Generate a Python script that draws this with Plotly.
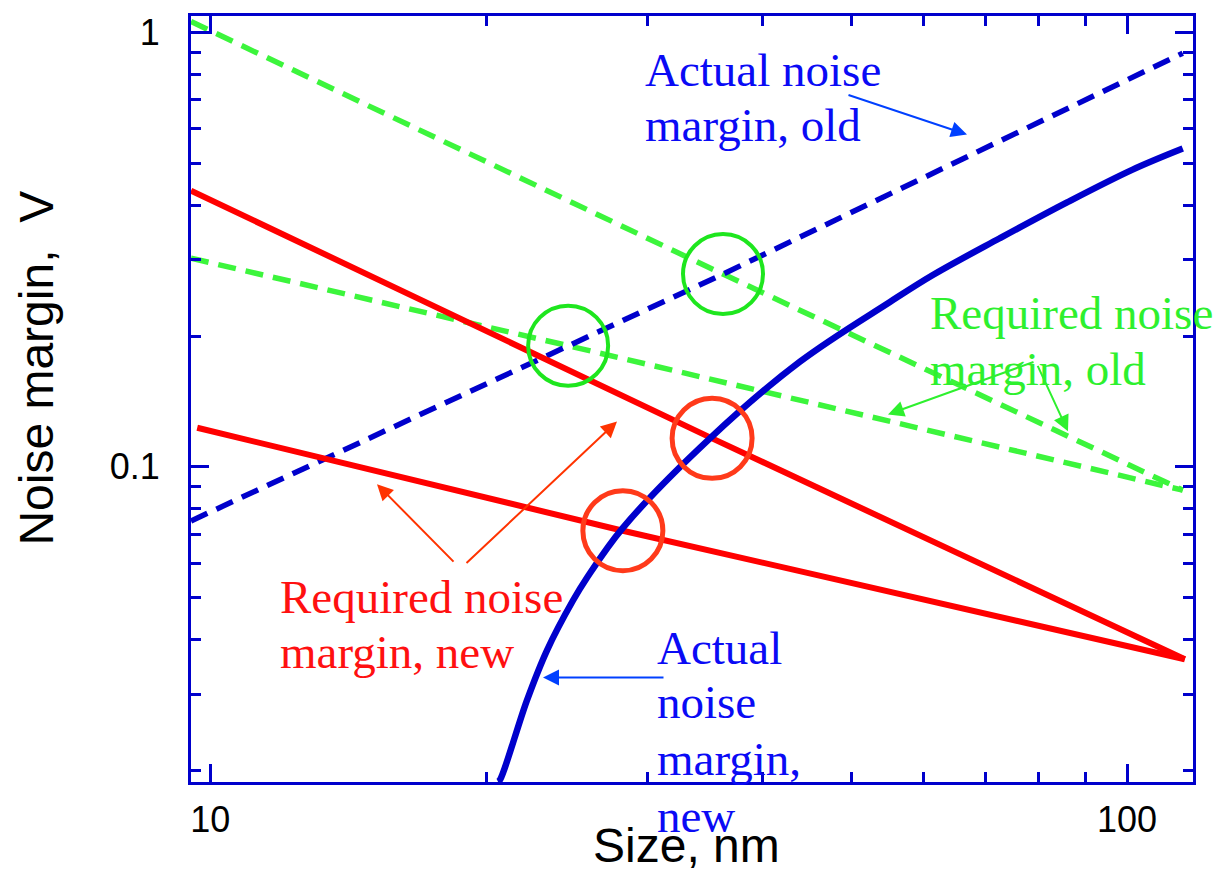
import math
import plotly.graph_objects as go

# ---------------- data ----------------
size_actual_old = [9.53, 24.57, 36.25, 115.0]
nm_actual_old = [0.0751, 0.190, 0.2777, 0.895]

size_actual_new = [20.6, 20.71, 22.16, 23.30, 24.87, 25.76, 28.19, 35.08, 43.98, 55.13, 61.4, 72.63, 86.0, 101.4, 115.0]
nm_actual_new = [0.01887, 0.01907, 0.02908, 0.03785, 0.04927, 0.0556, 0.0724, 0.1163, 0.1746, 0.2395, 0.2763, 0.3357, 0.406, 0.483, 0.540]

size_req_old_hi = [9.53, 36.25, 115.0]
nm_req_old_hi = [1.058, 0.2777, 0.0884]

size_req_old_lo = [9.53, 24.57, 115.0]
nm_req_old_lo = [0.302, 0.190, 0.0884]

size_req_new_hi = [9.53, 35.27, 115.6]
nm_req_new_hi = [0.432, 0.1163, 0.0361]

size_req_new_lo = [9.68, 28.19, 115.6]
nm_req_new_lo = [0.123, 0.0713, 0.0361]

green_circle_x = [24.57, 36.25]
green_circle_y = [0.190, 0.2777]
red_circle_x = [28.19, 35.27]
red_circle_y = [0.0713, 0.1163]

x_ticks = [10, 100]
x_ticktext = ["10", "100"]
y_ticks = [0.1, 1]
y_ticktext = ["0.1", "1"]
x_minor = [20, 30, 40, 50, 60, 70, 80, 90]
y_minor = [0.02, 0.03, 0.04, 0.05, 0.06, 0.07, 0.08, 0.09, 0.2, 0.3, 0.4, 0.5, 0.6, 0.7, 0.8, 0.9]

# ---------------- styling ----------------
W, H = 1232, 871
L, R, T, B = 191, 39, 13, 89
PW, PH = W - L - R, H - T - B

AX = "#0000cc"
BLUE = "#0000cc"
GREEN = "#3cf53c"
RED = "#ff0000"
SERIF = "Liberation Serif, Times New Roman, serif"
SANS = "Liberation Sans, Arial, sans-serif"


def px(xp):
    return (xp - L) / PW


def py(yp):
    return (T + PH - yp) / PH


fig = go.Figure()

dash = "18px,10px"
fig.add_trace(go.Scatter(x=size_req_old_hi, y=nm_req_old_hi, mode="lines",
                         line=dict(color=GREEN, width=5.5, dash=dash)))
fig.add_trace(go.Scatter(x=size_req_old_lo, y=nm_req_old_lo, mode="lines",
                         line=dict(color=GREEN, width=5.5, dash=dash)))
fig.add_trace(go.Scatter(x=size_actual_old, y=nm_actual_old, mode="lines",
                         line=dict(color=BLUE, width=5.5, dash=dash)))
fig.add_trace(go.Scatter(x=size_req_new_hi, y=nm_req_new_hi, mode="lines",
                         line=dict(color=RED, width=6)))
fig.add_trace(go.Scatter(x=size_req_new_lo, y=nm_req_new_lo, mode="lines",
                         line=dict(color=RED, width=6)))
fig.add_trace(go.Scatter(x=size_actual_new, y=nm_actual_new, mode="lines",
                         line=dict(color=BLUE, width=6.5, shape="spline", smoothing=1.0)))
fig.add_trace(go.Scatter(x=green_circle_x, y=green_circle_y, mode="markers",
                         marker=dict(symbol="circle-open", size=80, color="#1ee61e",
                                     line=dict(width=4, color="#1ee61e"))))
fig.add_trace(go.Scatter(x=red_circle_x, y=red_circle_y, mode="markers",
                         marker=dict(symbol="circle-open", size=80, color="#ff3a1a",
                                     line=dict(width=5, color="#ff3a1a"))))

annotations = []


def text(s, left, baseline, color, size=47):
    annotations.append(dict(xref="paper", yref="paper", x=px(left), y=py(baseline - 0.34 * size),
                            xanchor="left", yanchor="middle", text=s, showarrow=False,
                            font=dict(family=SERIF, size=size, color=color)))


def arrow(head, tail, color):
    annotations.append(dict(xref="paper", yref="paper", x=px(head[0]), y=py(head[1]),
                            ax=tail[0] - head[0], ay=tail[1] - head[1], text="",
                            showarrow=True, arrowhead=2, arrowsize=1.6, arrowwidth=2,
                            arrowcolor=color))


TXT_BLUE = "#0a0af5"
TXT_GREEN = "#2ef02e"
TXT_RED = "#ff1010"

text("Actual noise", 643, 83, TXT_BLUE)
text("margin, old", 643, 138, TXT_BLUE)
arrow((967, 132), (847, 92), "#0040ff")

text("Required noise", 928, 327, TXT_GREEN)
text("margin, old", 928, 383, TXT_GREEN)
arrow((888, 413), (1035, 360), TXT_GREEN)
arrow((1068, 430), (1037, 363), TXT_GREEN)

text("Required noise", 278, 612, TXT_RED)
text("margin, new", 278, 667, TXT_RED)
arrow((377, 483), (455, 562), "#ff3300")
arrow((617, 420), (465, 563), "#ff3300")

text("Actual", 655, 663, TXT_BLUE)
text("noise", 655, 718, TXT_BLUE)
text("margin,", 655, 775, TXT_BLUE)
text("new", 655, 832, TXT_BLUE)
arrow((543, 677), (665, 677), "#0040ff")

# axis titles
annotations.append(dict(xref="paper", yref="paper", x=px(686), y=py(846), xanchor="center",
                        yanchor="middle", text="Size, nm", showarrow=False,
                        font=dict(family=SANS, size=48, color="black")))
annotations.append(dict(xref="paper", yref="paper", x=px(37), y=py(367), xanchor="center",
                        yanchor="middle", text="Noise margin,\u00a0 V", textangle=-90, showarrow=False,
                        font=dict(family=SANS, size=48, color="black")))

axis_common = dict(type="log", showgrid=False, zeroline=False, showline=True, linecolor=AX,
                   linewidth=3, mirror="allticks", ticks="inside", ticklen=18, tickwidth=3,
                   tickcolor=AX, tickfont=dict(family=SANS, size=36, color="black"))

fig.update_layout(
    width=W, height=H, margin=dict(l=L, r=R, t=T, b=B, pad=0),
    paper_bgcolor="white", plot_bgcolor="white", showlegend=False,
    annotations=annotations,
    xaxis=dict(range=[math.log10(9.53), math.log10(118.0)], tickvals=x_ticks, ticktext=x_ticktext,
               ticklabelstandoff=4,
               minor=dict(ticks="inside", ticklen=10, tickwidth=3, tickcolor=AX, tickvals=x_minor),
               **axis_common),
    yaxis=dict(range=[-1.725, 0.0373], tickvals=y_ticks, ticktext=y_ticktext,
               ticklabelstandoff=21,
               minor=dict(ticks="inside", ticklen=10, tickwidth=3, tickcolor=AX, tickvals=y_minor),
               **axis_common),
)

fig.write_html("out.html", config={"displayModeBar": False},
               post_script="document.body.style.margin='0';document.body.style.overflow='hidden';")
